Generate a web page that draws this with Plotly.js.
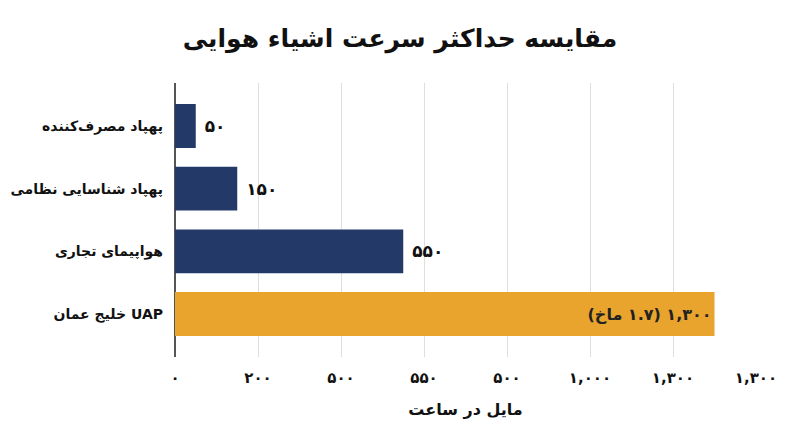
<!DOCTYPE html>
<html>
<head>
<meta charset="utf-8">
<script src="https://cdn.plot.ly/plotly-3.0.1.min.js"></script>
<style>
  html, body { margin: 0; padding: 0; background: #fff; }
  #chart { width: 800px; height: 447px; }
</style>
</head>
<body>
<div id="chart"></div>
<script>
// data
const categories = ['پهپاد مصرف‌کننده', 'پهپاد شناسایی نظامی', 'هواپیمای تجاری', 'خلیج عمان UAP'];
const speeds = [50, 150, 550, 1300];
const valueLabels = ['\u00A0۵۰', '\u00A0۱۵۰', '\u00A0۵۵۰', '\u202B۱,۳۰۰ (۱.۷ ماخ)\u202C'];
const tickVals = [0, 200, 400, 600, 800, 1000, 1200, 1400];
const tickText = ['۰', '۲۰۰', '۵۰۰', '۵۵۰', '۵۰۰', '۱,۰۰۰', '۱,۳۰۰', '۱,۳۰۰'];

const NAVY = '#233a68';
const GOLD = '#e8a42d';
const FONT = 'DejaVu Sans, sans-serif';

const trace = {
  type: 'bar',
  orientation: 'h',
  x: speeds,
  y: categories,
  width: 0.7,
  marker: { color: [NAVY, NAVY, NAVY, GOLD] },
  text: valueLabels,
  textposition: ['outside', 'outside', 'outside', 'inside'],
  insidetextanchor: 'end',
  textfont: { family: FONT, size: 17, color: '#111', weight: 'bold' },
  insidetextfont: { family: FONT, size: 16, color: '#222', weight: 'bold' },
  outsidetextfont: { family: FONT, size: 17, color: '#111', weight: 'bold' },
  cliponaxis: false,
  hoverinfo: 'skip'
};

const layout = {
  width: 800,
  height: 447,
  paper_bgcolor: '#fff',
  plot_bgcolor: '#fff',
  font: { family: FONT, color: '#111' },
  margin: { l: 175, r: 44, t: 83, b: 90 },
  showlegend: false,
  title: {
    text: 'مقایسه حداکثر سرعت اشیاء هوایی',
    font: { family: FONT, size: 25, color: '#111', weight: 'bold' },
    x: 0.5, xanchor: 'center', y: 0.915, yanchor: 'middle'
  },
  xaxis: {
    range: [0, 1400],
    tickvals: tickVals,
    ticktext: tickText,
    tickfont: { family: FONT, size: 15, color: '#111', weight: 'bold' },
    ticks: '',
    ticklabelstandoff: 10,
    showgrid: true,
    gridcolor: '#dedede',
    gridwidth: 1,
    zeroline: true,
    zerolinecolor: '#555',
    zerolinewidth: 1.5,
    showline: false,
    fixedrange: true,
    title: {
      text: 'مایل در ساعت',
      font: { family: FONT, size: 16, color: '#111', weight: 'bold' },
      standoff: 17
    }
  },
  yaxis: {
    range: [3.685, -0.685],
    tickfont: { family: FONT, size: 14, color: '#111', weight: 'bold' },
    ticks: '',
    ticklabelstandoff: 11,
    showgrid: false,
    zeroline: false,
    showline: false,
    fixedrange: true
  }
};

Plotly.newPlot('chart', [trace], layout, { displayModeBar: false, staticPlot: true });
</script>
</body>
</html>
